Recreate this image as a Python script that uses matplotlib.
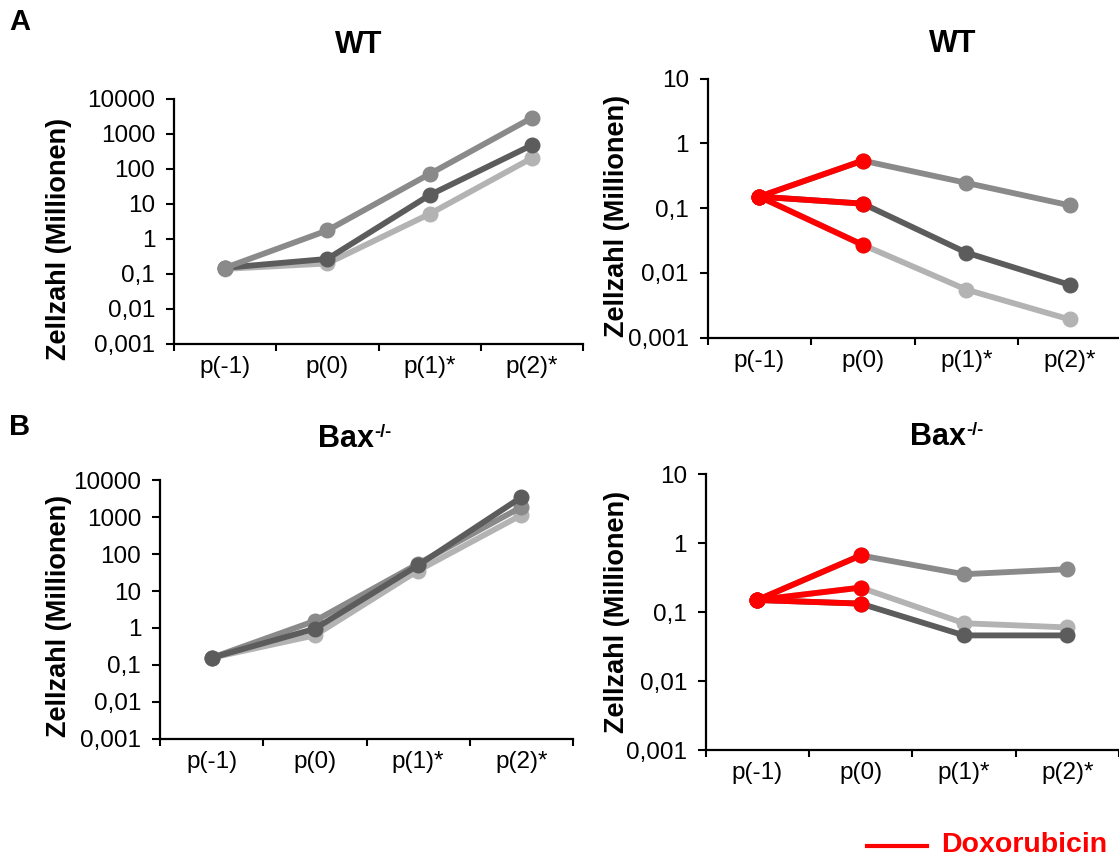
import matplotlib

matplotlib.use("Agg")
import matplotlib.pyplot as plt
from matplotlib.lines import Line2D
from matplotlib.ticker import FixedLocator, FixedFormatter, NullFormatter

plt.rcParams["font.family"] = ["Liberation Sans", "DejaVu Sans"]

categories = ["p(-1)", "p(0)", "p(1)*", "p(2)*"]

# WT, ohne Behandlung
wt_ctrl_mid = [0.15, 1.76, 72, 2900]
wt_ctrl_dark = [0.15, 0.27, 18, 480]
wt_ctrl_light = [0.14, 0.20, 5.2, 205]

# WT, Doxorubicin
wt_dox_mid = [0.15, 0.54, 0.245, 0.11]
wt_dox_dark = [0.15, 0.117, 0.0205, 0.0065]
wt_dox_light = [0.15, 0.027, 0.0055, 0.0019]

# Bax-/-, ohne Behandlung
bax_ctrl_mid = [0.155, 1.55, 55, 1900]
bax_ctrl_dark = [0.155, 0.95, 50, 3500]
bax_ctrl_light = [0.155, 0.63, 36, 1150]

# Bax-/-, Doxorubicin
bax_dox_mid = [0.15, 0.665, 0.355, 0.42]
bax_dox_dark = [0.15, 0.133, 0.046, 0.046]
bax_dox_light = [0.15, 0.227, 0.069, 0.06]

ticks_wide = [1e-3, 1e-2, 1e-1, 1, 10, 100, 1000, 10000]
labels_wide = ["0,001", "0,01", "0,1", "1", "10", "100", "1000", "10000"]
ticks_narrow = [1e-3, 1e-2, 1e-1, 1, 10]
labels_narrow = ["0,001", "0,01", "0,1", "1", "10"]

MID = "#8a8a8a"
DARK = "#5c5c5c"
LIGHT = "#b3b3b3"
RED = "#ff0000"

W, H = 1119, 857


def px_axes(fig, left, top, right, bottom):
    return fig.add_axes([left / W, 1 - bottom / H, (right - left) / W, (bottom - top) / H])


def style_axis(ax, ticks, labels):
    ax.set_yscale("log")
    ax.set_ylim(ticks[0], ticks[-1])
    ax.yaxis.set_major_locator(FixedLocator(ticks))
    ax.yaxis.set_major_formatter(FixedFormatter(labels))
    ax.yaxis.set_minor_locator(FixedLocator([]))
    ax.set_xlim(-0.5, len(categories) - 0.5)
    ax.xaxis.set_major_locator(FixedLocator([i - 0.5 for i in range(len(categories) + 1)]))
    ax.xaxis.set_major_formatter(NullFormatter())
    ax.xaxis.set_minor_locator(FixedLocator(range(len(categories))))
    ax.xaxis.set_minor_formatter(FixedFormatter(categories))
    ax.tick_params(axis="x", which="major", direction="out", length=5, width=1.5)
    ax.tick_params(axis="x", which="minor", length=0, pad=9, labelsize=17.5)
    ax.tick_params(axis="y", direction="out", length=5.5, width=1.5, pad=8, labelsize=17.5)
    for side in ("top", "right"):
        ax.spines[side].set_visible(False)
    for side in ("left", "bottom"):
        ax.spines[side].set_linewidth(1.6)
    ax.patch.set_alpha(0)


def draw_series(ax, series, red_start=False):
    x = range(len(categories))
    for values, color in series:
        ax.plot(x, values, color=color, lw=4.2, marker="o", ms=10.5, clip_on=False)
    if red_start:
        for values, _ in series:
            ax.plot(x[:2], values[:2], color=RED, lw=4.2, marker="o", ms=10.5, clip_on=False, zorder=3)


fig = plt.figure(figsize=(W / 100, H / 100), dpi=100)

ax_a1 = px_axes(fig, 174, 99, 583, 344)
style_axis(ax_a1, ticks_wide, labels_wide)
draw_series(ax_a1, [(wt_ctrl_light, LIGHT), (wt_ctrl_dark, DARK), (wt_ctrl_mid, MID)])

ax_a2 = px_axes(fig, 707.5, 78.6, 1121.5, 337.5)
style_axis(ax_a2, ticks_narrow, labels_narrow)
draw_series(ax_a2, [(wt_dox_light, LIGHT), (wt_dox_dark, DARK), (wt_dox_mid, MID)], red_start=True)

ax_b1 = px_axes(fig, 160, 480.4, 573, 738.6)
style_axis(ax_b1, ticks_wide, labels_wide)
draw_series(ax_b1, [(bax_ctrl_light, LIGHT), (bax_ctrl_mid, MID), (bax_ctrl_dark, DARK)])

ax_b2 = px_axes(fig, 705.7, 474.3, 1119, 750)
style_axis(ax_b2, ticks_narrow, labels_narrow)
draw_series(ax_b2, [(bax_dox_light, LIGHT), (bax_dox_dark, DARK), (bax_dox_mid, MID)], red_start=True)

# y axis labels
for x, y in [(59, 239), (617, 216), (59, 616), (617, 612)]:
    fig.text(x / W, 1 - y / H, "Zellzahl (Millionen)", rotation=90, ha="center", va="center",
             fontsize=19.5, fontweight="bold")

# titles
for x, y in [(359, 45), (953, 44)]:
    fig.text(x / W, 1 - y / H, "WT", ha="center", va="center", fontsize=22, fontweight="bold")
for x, y in [(346, 439), (938, 437)]:
    bax = fig.text(x / W, 1 - y / H, "Bax", ha="center", va="center", fontsize=22, fontweight="bold")
    fig.add_artist(plt.Annotation("-/-", xy=(1.0, 1.0), xycoords=bax, xytext=(0.5, 0),
                                  textcoords="offset points", ha="left", va="top",
                                  fontsize=13, fontweight="bold"))

# panel letters
fig.text(20 / W, 1 - 22 / H, "A", ha="center", va="center", fontsize=21, fontweight="bold")
fig.text(20 / W, 1 - 427 / H, "B", ha="center", va="center", fontsize=21, fontweight="bold")

# legend key
fig.add_artist(Line2D([867 / W, 927 / W], [1 - 846 / H, 1 - 846 / H], color=RED, lw=3,
                      transform=fig.transFigure))
fig.text(1107 / W, 1 - 852 / H, "Doxorubicin", ha="right", va="baseline", color=RED,
         fontsize=20.5, fontweight="bold")

fig.savefig("out.png", dpi=100)
